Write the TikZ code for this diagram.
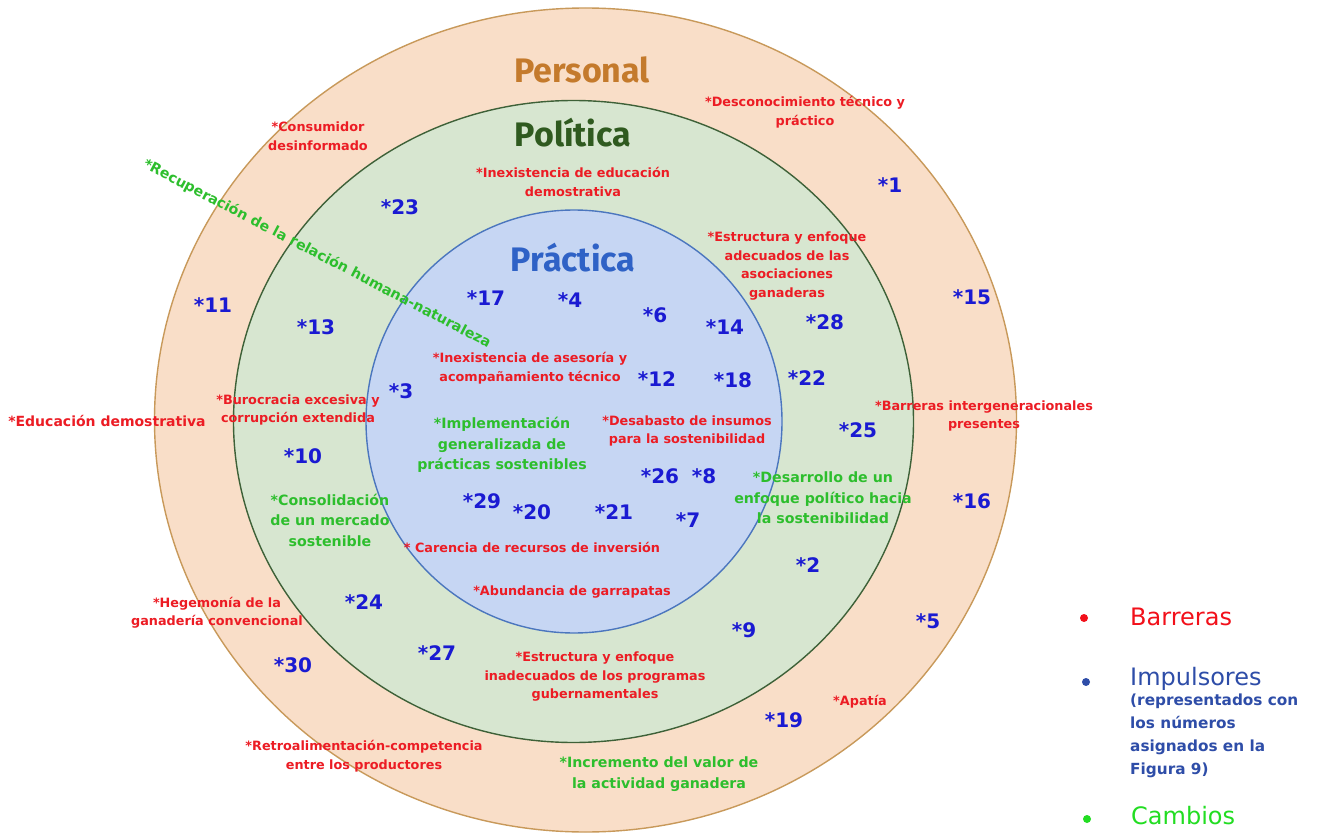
\documentclass[tikz,border=0pt]{standalone}
\usepackage{fontspec}
\setmainfont{DejaVu Sans}
\newfontfamily\titlefont{Fira Sans}
\definecolor{peach}{HTML}{F9DEC8}
\definecolor{peachline}{HTML}{C8995A}
\definecolor{greenfill}{HTML}{D7E6D0}
\definecolor{greenline}{HTML}{3E6138}
\definecolor{bluefill}{HTML}{C6D6F3}
\definecolor{blueline}{HTML}{4B76BE}
\definecolor{barred}{HTML}{EC1C24}
\definecolor{camgreen}{HTML}{2DBE2D}
\definecolor{impblue}{HTML}{1A1AD2}
\definecolor{tpers}{HTML}{C47A2C}
\definecolor{tpol}{HTML}{2F5A1F}
\definecolor{tprac}{HTML}{2F62C6}
\definecolor{legred}{HTML}{F2101A}
\definecolor{legblue}{HTML}{2E4DA8}
\definecolor{leggreen}{HTML}{22DD22}
\begin{document}
\begin{tikzpicture}[x=1pt,y=-1pt,
  bar/.style={text=barred, font=\bfseries\fontsize{12.8}{18.5}\selectfont, align=center, inner sep=0pt},
  cam/.style={text=camgreen, font=\bfseries\fontsize{14.2}{20.5}\selectfont, align=center, inner sep=0pt},
  imp/.style={text=impblue, font=\bfseries\fontsize{20}{24}\selectfont, inner sep=0pt},
  ttl/.style={font=\titlefont\bfseries\fontsize{34}{40}\selectfont, inner sep=0pt},
  leg/.style={font=\fontsize{24}{28}\selectfont, inner sep=0pt, anchor=west},
  legsub/.style={text=legblue, font=\bfseries\fontsize{15.3}{23}\selectfont, inner sep=0pt, anchor=north west, align=left},
  legdot/.style={circle, minimum size=8pt, inner sep=0pt}]
\useasboundingbox (0,0) rectangle (1322,834);
\fill[white] (0,0) rectangle (1322,834);
% rings
\draw[peachline, fill=peach, line width=1.4pt] (585.5,420) ellipse [x radius=431pt, y radius=412pt];
\draw[greenline, fill=greenfill, line width=1.4pt] (573.5,421.5) ellipse [x radius=340pt, y radius=321pt];
\draw[blueline, fill=bluefill, line width=1.4pt] (574,421.5) ellipse [x radius=208pt, y radius=211.5pt];
% titles
\node[ttl, text=tpers] (tPers) at (582,70) {Personal};
\node[ttl, text=tpol] (tPol) at (573,133) {Política};
\node[ttl, text=tprac] (tPrac) at (573,258) {Práctica};
% barreras
\node[bar] (b1) at (318,136) {*Consumidor\\desinformado};
\node[bar] (b2) at (805,112) {*Desconocimiento técnico y\\práctico};
\node[bar] (b3) at (573,182) {*Inexistencia de educación\\demostrativa};
\node[bar] (b4) at (787,266) {*Estructura y enfoque\\adecuados de las\\asociaciones\\ganaderas};
\node[bar] (b5) at (530,368) {*Inexistencia de asesoría y\\acompañamiento técnico};
\node[bar] (b6) at (298,410) {*Burocracia excesiva y\\corrupción extendida};
\node[bar, font=\bfseries\fontsize{14}{18}\selectfont] (b7) at (107,421) {*Educación demostrativa};
\node[bar] (b8) at (984,416) {*Barreras intergeneracionales\\presentes};
\node[bar] (b9) at (687,431) {*Desabasto de insumos\\para la sostenibilidad};
\node[bar] (b10) at (532,547) {* Carencia de recursos de inversión};
\node[bar] (b11) at (572,592) {*Abundancia de garrapatas};
\node[bar] (b12) at (217,613) {*Hegemonía de la\\ganadería convencional};
\node[bar] (b13) at (595,677) {*Estructura y enfoque\\inadecuados de los programas\\gubernamentales};
\node[bar] (b14) at (860,702) {*Apatía};
\node[bar] (b15) at (364,756) {*Retroalimentación-competencia\\entre los productores};
% cambios
\node[cam, rotate=-27.6] (c1) at (317,254) {*Recuperación de la relación humana-naturaleza};
\node[cam] (c2) at (502,445) {*Implementación\\generalizada de\\prácticas sostenibles};
\node[cam] (c3) at (330,520) {*Consolidación\\de un mercado\\sostenible};
\node[cam] (c4) at (823,498) {*Desarrollo de un\\enfoque político hacia\\la sostenibilidad};
\node[cam] (c5) at (659,774) {*Incremento del valor de\\la actividad ganadera};
% impulsores
\node[imp] (n1) at (890,185) {*1};
\node[imp] (n2) at (808,565) {*2};
\node[imp] (n3) at (401,391) {*3};
\node[imp] (n4) at (570,300) {*4};
\node[imp] (n5) at (928,621) {*5};
\node[imp] (n6) at (655,315) {*6};
\node[imp] (n7) at (688,520) {*7};
\node[imp] (n8) at (704,476) {*8};
\node[imp] (n9) at (744,630) {*9};
\node[imp] (n10) at (303,456) {*10};
\node[imp] (n11) at (213,305) {*11};
\node[imp] (n12) at (657,379) {*12};
\node[imp] (n13) at (316,327) {*13};
\node[imp] (n14) at (725,327) {*14};
\node[imp] (n15) at (972,297) {*15};
\node[imp] (n16) at (972,501) {*16};
\node[imp] (n17) at (486,298) {*17};
\node[imp] (n18) at (733,380) {*18};
\node[imp] (n19) at (784,720) {*19};
\node[imp] (n20) at (532,512) {*20};
\node[imp] (n21) at (614,512) {*21};
\node[imp] (n22) at (807,378) {*22};
\node[imp] (n23) at (400,207) {*23};
\node[imp] (n24) at (364,602) {*24};
\node[imp] (n25) at (858,430) {*25};
\node[imp] (n26) at (660,476) {*26};
\node[imp] (n27) at (437,653) {*27};
\node[imp] (n28) at (825,322) {*28};
\node[imp] (n29) at (482,501) {*29};
\node[imp] (n30) at (293,665) {*30};
% legend
\node[legdot, fill=legred] (d1) at (1084,618) {};
\node[leg, text=legred] (l1) at (1130,617) {Barreras};
\node[legdot, fill=legblue] (d2) at (1086,682) {};
\node[leg, text=legblue] (l2) at (1130,679) {Impulsores};
\node[legsub] (l2s) at (1130,694) {(representados con\\los números\\asignados en la\\Figura 9)};
\node[legdot, fill=leggreen] (d3) at (1087,819) {};
\node[leg, text=leggreen] (l3) at (1131,816) {Cambios};
\end{tikzpicture}
\end{document}
